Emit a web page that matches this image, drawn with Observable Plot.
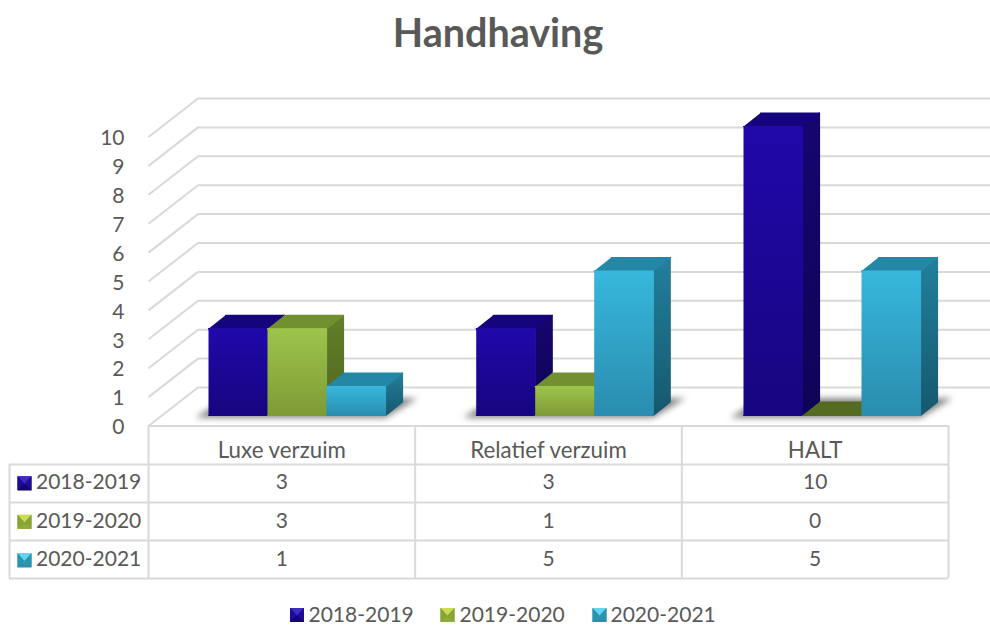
<!DOCTYPE html>
<html>
<head>
<meta charset="utf-8">
<script src="https://cdn.jsdelivr.net/npm/d3@7"></script>
<script src="https://cdn.jsdelivr.net/npm/@observablehq/plot@0.6"></script>
<style>
html,body{margin:0;padding:0;background:#fff;overflow:hidden}
#title{height:66px;text-align:center;font:700 39.5px/64px Lato,sans-serif;color:#595959;width:996px}
svg{display:block}
</style>
</head>
<body>
<div id="title">Handhaving</div>
<div id="chart"></div>
<script>
// ---- data ----
const categories = ["Luxe verzuim", "Relatief verzuim", "HALT"];
const seasons = ["2018-2019", "2019-2020", "2020-2021"];
const values2018 = [3, 3, 10];
const values2019 = [3, 1, 0];
const values2020 = [1, 5, 5];
const seriesValues = [values2018, values2019, values2020];
const yTicks = [0, 1, 2, 3, 4, 5, 6, 7, 8, 9, 10];

// ---- palette ----
const frontColors = [["#2008aa", "#16057f"], ["#9dc44b", "#7e9b36"], ["#36b8dc", "#2a8cae"]];
const sideColors = [["#16066f", "#0e0356"], ["#637f29", "#4f6620"], ["#227f9c", "#16586d"]];
const topColors = ["#15057c", "#729030", "#2387a5"];
const zeroColors = ["#15057c", "#546b21", "#1f7a97"];
const swatchColors = [
  {top: "#3f2bc4", side: "#1d0c96", bottom: "#140573", mid: "#120464"},
  {top: "#cadc50", side: "#88a337", bottom: "#8fab3a", mid: "#8aa636"},
  {top: "#64d6ef", side: "#2c94ae", bottom: "#2b90ab", mid: "#2f9ab6"}
];

// ---- layout (in scale units: one category wide, one count high) ----
const unitX = 800 / 3, unitY = 28.9;
const xOf = px => (px - 148) / unitX;          // table + legend placement
const yOf = px => (425.5 - px) / unitY;
const wallX = 49.5 / unitX, wallY = 38.5 / unitY;
const floorBar = 10.5 / unitY;
const depthX = 17 / unitX, depthY = 13.5 / unitY;
const barW = 59 / unitX;
const barStarts = [xOf(208), xOf(475.7), xOf(743)];
const rightEdge = xOf(990);
const rowLines = [464, 502, 540, 578].map(yOf);
const colLines = [0, 1, 2, 3];
const rowCenters = [482, 520.5, 559].map(yOf);
const keyLeft = xOf(9);
const keyText = xOf(35.5);
const keySwatch = xOf(24);
const legendY = yOf(614.5);
const legendSwatches = [296.5, 447, 599].map(xOf);
const legendTexts = [308, 459, 610].map(xOf);

// ---- 3D faces built from the values ----
const faces = [];
const shadows = [];
categories.forEach((c, i) => {
  const x0 = barStarts[i];
  const xEnd = x0 + 3 * barW;
  const f = floorBar;
  [[x0 - 13 / unitX, f - 0.08], [xEnd, f - 0.08], [xEnd + 32 / unitX, f + 0.6], [x0 + depthX, f + 0.6]]
    .forEach(([x, y]) => shadows.push({id: i, x, y}));
  seasons.forEach((s, k) => {
    const v = seriesValues[k][i];
    const l = x0 + k * barW, r = l + barW, t = f + v;
    const add = (name, fill, pts) => pts.forEach(([x, y]) => faces.push({id: `${i}-${k}-${name}`, fill, x, y}));
    if (v > 0) add("side", `url(#side${k})`, [[r, f], [r + depthX, f + depthY], [r + depthX, t + depthY], [r, t]]);
    add("top", v > 0 ? topColors[k] : zeroColors[k], [[l, t], [r, t], [r + depthX, t + depthY], [l + depthX, t + depthY]]);
    if (v > 0) add("front", `url(#front${k})`, [[l, f], [r, f], [r, t], [l, t]]);
  });
});

const tableCells = seasons.flatMap((s, k) => categories.map((c, i) => ({x: i + 0.5, y: rowCenters[k], t: seriesValues[k][i]})));

// ---- beveled swatch parts ----
const part = pts => ({draw(ctx, size) {
  const h = Math.sqrt(size / Math.PI);
  pts.forEach(([a, b], n) => n ? ctx.lineTo(a * h, b * h) : ctx.moveTo(a * h, b * h));
  ctx.closePath();
}});
const swatchParts = [
  ["mid", part([[-1, -1], [1, -1], [1, 1], [-1, 1]])],
  ["top", part([[-1, -1], [1, -1], [0, 0.1]])],
  ["side", part([[-1, -1], [0, 0.1], [-0.55, 0.55], [-1, 1]])],
  ["side", part([[1, -1], [0, 0.1], [0.55, 0.55], [1, 1]])],
  ["bottom", part([[-1, 1], [1, 1], [0.5, 0.45], [-0.5, 0.45]])]
];
const swatchSpots = [
  ...seasons.map((s, k) => ({x: keySwatch, y: rowCenters[k] - 0.03, k})),
  ...seasons.map((s, k) => ({x: legendSwatches[k], y: legendY, k}))
];

const defs = () => {
  const d = d3.create("svg:defs");
  const grad = (id, [a, b]) => {
    const g = d.append("linearGradient").attr("id", id).attr("x1", 0).attr("x2", 0).attr("y1", 0).attr("y2", 1);
    g.append("stop").attr("offset", "0%").attr("stop-color", a);
    g.append("stop").attr("offset", "100%").attr("stop-color", b);
  };
  frontColors.forEach((c, k) => grad(`front${k}`, c));
  sideColors.forEach((c, k) => grad(`side${k}`, c));
  return d.node();
};

const grid = "#d9d9d9", ink = "#595959", fs = 21;

const chart = Plot.plot({
  width: 990, height: 560,
  marginLeft: 148, marginRight: 42, marginTop: 70.5, marginBottom: 200.5,
  x: {domain: [0, 3], axis: null},
  y: {domain: [0, 10], axis: null},
  color: {type: "identity"},
  style: {fontFamily: "Lato, sans-serif", background: "#fff", overflow: "visible"},
  marks: [
    defs,
    // walls
    Plot.ruleY(yTicks, {y: d => d + wallY, x1: wallX, x2: rightEdge, stroke: grid, strokeWidth: 2}),
    Plot.link(yTicks, {x1: 0, y1: d => d, x2: wallX, y2: d => d + wallY, stroke: grid, strokeWidth: 2}),
    // table
    Plot.ruleY([0], {x1: 0, x2: 3, stroke: grid, strokeWidth: 2}),
    Plot.ruleY(rowLines, {x1: keyLeft, x2: 3, stroke: grid, strokeWidth: 2}),
    Plot.ruleX(colLines, {y1: 0, y2: rowLines[3], stroke: grid, strokeWidth: 2}),
    Plot.ruleX([keyLeft], {y1: rowLines[0], y2: rowLines[3], stroke: grid, strokeWidth: 2}),
    // shadows + bars
    Plot.line(shadows, {x: "x", y: "y", z: "id", fill: "#6f6f6f", stroke: "none", fillOpacity: 0.85, imageFilter: "blur(3px)"}),
    Plot.line(faces, {x: "x", y: "y", z: "id", fill: "fill", stroke: "fill", strokeWidth: 1.2, strokeLinejoin: "round", imageFilter: "blur(0.5px)"}),
    // axis
    Plot.axisY({ticks: yTicks, tickSize: 0, tickPadding: 24, dy: 1.5, fontSize: fs, fill: ink, label: null, tickFormat: d => d}),
    // table text
    Plot.text(categories, {x: (d, i) => i + 0.5, y: yOf(450), text: d => d, fontSize: 22.3, fill: ink}),
    Plot.text(tableCells, {x: "x", y: "y", text: "t", fontSize: fs, fill: ink}),
    Plot.text(seasons, {x: keyText, y: (d, k) => rowCenters[k], text: d => d, textAnchor: "start", fontSize: fs, fill: ink}),
    // legend text
    Plot.text(seasons, {x: (d, k) => legendTexts[k], y: legendY, text: d => d, textAnchor: "start", fontSize: fs, fill: ink}),
    // swatches
    ...swatchParts.map(([key, symbol]) =>
      Plot.dot(swatchSpots, {x: "x", y: "y", r: 7, symbol, stroke: "none", fill: d => swatchColors[d.k][key]}))
  ]
});
document.getElementById("chart").append(chart);
</script>
</body>
</html>
